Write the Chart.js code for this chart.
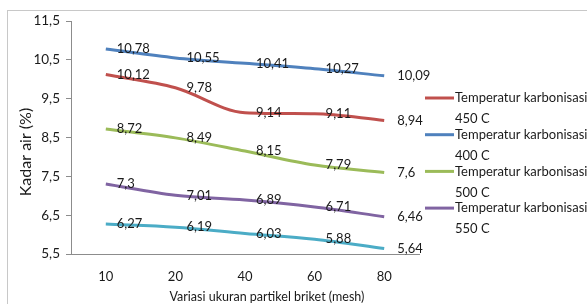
<!DOCTYPE html>
<html>
<head>
<meta charset="utf-8">
<script src="https://cdn.jsdelivr.net/npm/chart.js@4.4.0/dist/chart.umd.min.js"></script>
<style>
  html, body { margin: 0; padding: 0; background: #fff; overflow: hidden; }
  #wrap { position: relative; width: 587px; height: 304px; }
  #frame { position: absolute; left: 7px; top: 10px; width: 600px; height: 320px; border: 1px solid #c8c8c8; box-sizing: border-box; }
</style>
</head>
<body>
<div id="wrap">
  <div id="frame"></div>
  <canvas id="grafik" width="587" height="304"></canvas>
</div>
<script>
// Datos del gráfico
const ukuranMesh = ['10', '20', '40', '60', '80'];
const suhu400 = [10.78, 10.55, 10.41, 10.27, 10.09];
const suhu450 = [10.12, 9.78, 9.14, 9.11, 8.94];
const suhu500 = [8.72, 8.49, 8.15, 7.79, 7.6];
const suhu550 = [7.3, 7.01, 6.89, 6.71, 6.46];
const suhu600 = [6.27, 6.19, 6.03, 5.88, 5.64];
const namaSeri = ['Temperatur karbonisasi 400 C', 'Temperatur karbonisasi 450 C', 'Temperatur karbonisasi 500 C', 'Temperatur karbonisasi 550 C', 'Temperatur karbonisasi 600 C'];
const warna = ['#4F81BD', '#C0504D', '#9BBB59', '#8064A2', '#4BACC6'];
const urutanLegend = [1, 0, 2, 3]; // orden visible de la leyenda
const yMin = 5.5, yMax = 11.5;

const FONT = 'Lato, "Noto Sans", sans-serif';

function koma(v) {
    return String(v).replace('.', ',');
}

// Etiquetas de valores, leyenda y títulos de ejes
const labelPlugin = {
    id: 'labelPlugin',
    afterDatasetsDraw(chart) {
        const ctx = chart.ctx;
        ctx.save();
        ctx.fillStyle = '#1a1a1a';
        ctx.font = '13px ' + FONT;
        ctx.textAlign = 'left';
        ctx.textBaseline = 'middle';
        chart.data.datasets.forEach((ds, i) => {
            const meta = chart.getDatasetMeta(i);
            meta.data.forEach((pt, j) => {
                const dx = j === meta.data.length - 1 ? 13 : 11;
                ctx.fillText(koma(ds.data[j]), pt.x + dx, pt.y);
            });
        });

        // leyenda
        let y = 98;
        ctx.font = '13px ' + FONT;
        urutanLegend.forEach(idx => {
            const ds = chart.data.datasets[idx];
            ctx.strokeStyle = ds.borderColor;
            ctx.lineWidth = 3;
            ctx.beginPath();
            ctx.moveTo(425, y);
            ctx.lineTo(454, y);
            ctx.stroke();
            const teks = ds.label.split(' ');
            const suhu = teks.splice(-2).join(' ');
            ctx.fillText(teks.join(' '), 455, y);
            ctx.fillText(suhu, 455, y + 21);
            y += 36.7;
        });

        // títulos de ejes
        ctx.font = '12.5px ' + FONT;
        ctx.textAlign = 'center';
        ctx.fillText('Variasi ukuran partikel briket (mesh)', 267, 297);
        ctx.translate(26, 152);
        ctx.rotate(-Math.PI / 2);
        ctx.font = '16px ' + FONT;
        ctx.fillText('Kadar air (%)', 0, 0);
        ctx.restore();
    }
};

const semuaSeri = [suhu400, suhu450, suhu500, suhu550, suhu600];

new Chart(document.getElementById('grafik').getContext('2d'), {
    type: 'line',
    data: {
        labels: ukuranMesh,
        datasets: semuaSeri.map((d, i) => ({
            label: namaSeri[i],
            data: d,
            borderColor: warna[i],
            backgroundColor: warna[i],
            borderWidth: 3,
            pointRadius: 0,
            cubicInterpolationMode: 'monotone',
            fill: false
        }))
    },
    options: {
        responsive: false,
        animation: false,
        layout: { padding: { left: 0, right: 168, top: 21, bottom: 0 } },
        plugins: {
            legend: { display: false },
            tooltip: { enabled: false }
        },
        scales: {
            x: {
                offset: true,
                grid: { display: false, drawTicks: false },
                border: { color: '#8c8c8c', width: 1 },
                ticks: { color: '#1a1a1a', font: { family: FONT, size: 13 }, padding: 15 },
                afterFit: function(scale) { scale.height = 50; }
            },
            y: {
                min: yMin,
                max: yMax,
                ticks: {
                    stepSize: 1,
                    color: '#1a1a1a',
                    font: { family: FONT, size: 13.5 },
                    padding: 6,
                    callback: function(value) { return koma(value); }
                },
                grid: { drawOnChartArea: false, drawTicks: true, tickLength: 5, color: '#8c8c8c' },
                border: { color: '#8c8c8c', width: 1 },
                afterFit: function(scale) { scale.width = 71; }
            }
        }
    },
    plugins: [labelPlugin]
});
</script>
</body>
</html>
